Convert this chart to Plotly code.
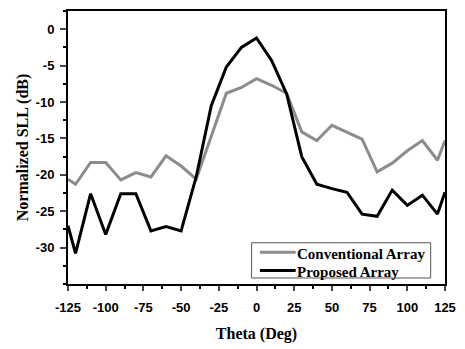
import plotly.graph_objects as go

theta = [-125, -120, -110, -100, -90, -80, -70, -60, -50, -40, -30, -20, -10, 0,
         10, 20, 30, 40, 50, 60, 70, 80, 90, 100, 110, 120, 125]
conventional = [-20.6, -21.3, -18.3, -18.3, -20.7, -19.7, -20.3, -17.4, -18.8, -20.6,
                -14.7, -8.8, -8.0, -6.8, -7.7, -8.8, -14.1, -15.3, -13.2, -14.2,
                -15.1, -19.6, -18.4, -16.7, -15.3, -18.0, -15.3]
proposed = [-27.0, -30.8, -22.6, -28.2, -22.6, -22.6, -27.7, -27.1, -27.7, -20.3,
            -10.5, -5.2, -2.5, -1.2, -4.3, -8.9, -17.5, -21.3, -21.9, -22.4,
            -25.4, -25.7, -22.1, -24.2, -22.8, -25.4, -22.4]
series_names = ["Conventional Array", "Proposed Array"]
series_colors = ["#8c8c8c", "#000000"]
x_ticks = [-125, -100, -75, -50, -25, 0, 25, 50, 75, 100, 125]
y_ticks = [0, -5, -10, -15, -20, -25, -30]

fig = go.Figure()
for name, vals, col in zip(series_names, [conventional, proposed], series_colors):
    fig.add_trace(go.Scatter(x=theta, y=vals, mode="lines", name=name,
                             line=dict(color=col, width=3), showlegend=False))

tickfont = dict(family="Liberation Sans", size=13, color="#000", weight="bold")
titlefont = dict(family="Liberation Serif", size=16, color="#000", weight="bold")
legfont = dict(family="Liberation Serif", size=15, color="#000", weight="bold")

# compact legend box (paper coordinates)
fig.add_shape(type="rect", xref="paper", yref="paper", x0=0.487, x1=0.962, y0=0.022, y1=0.151,
              line=dict(color="#555", width=1), fillcolor="white", layer="above")
line_y = [0.116, 0.049]
text_y = [0.110, 0.045]
for name, col, ly, ty in zip(series_names, series_colors, line_y, text_y):
    fig.add_shape(type="line", xref="paper", yref="paper", x0=0.509, x1=0.604, y0=ly, y1=ly,
                  line=dict(color=col, width=3), layer="above")
    fig.add_annotation(xref="paper", yref="paper", x=0.606, y=ty, text=name, showarrow=False,
                       xanchor="left", yanchor="middle", font=legfont, borderpad=0)

fig.update_layout(
    width=465, height=349,
    margin=dict(l=68, r=12, t=9, b=56),
    paper_bgcolor="white", plot_bgcolor="white",
    showlegend=False,
    xaxis=dict(range=[-125, 125], tickvals=x_ticks, ticktext=[str(v) for v in x_ticks],
               ticks="outside", ticklen=5, tickwidth=2, ticklabelstandoff=5,
               showline=True, linecolor="#000", linewidth=2, mirror=True, showgrid=False,
               zeroline=False, tickfont=tickfont,
               minor=dict(dtick=12.5, tick0=-125, ticks="outside", ticklen=3, tickwidth=2, tickcolor="#000"),
               title=dict(text="Theta (Deg)", font=titlefont, standoff=14)),
    yaxis=dict(range=[-35, 2.5], tickvals=y_ticks, ticktext=[str(v) for v in y_ticks],
               ticks="outside", ticklen=6, tickwidth=2, ticklabelstandoff=3,
               showline=True, linecolor="#000", linewidth=2, mirror=True, showgrid=False,
               zeroline=False, tickfont=tickfont,
               minor=dict(dtick=2.5, tick0=0, ticks="outside", ticklen=3, tickwidth=2, tickcolor="#000"),
               title=dict(text="Normalized SLL (dB)", font=titlefont, standoff=3)),
)

fig.write_html("out.html")
